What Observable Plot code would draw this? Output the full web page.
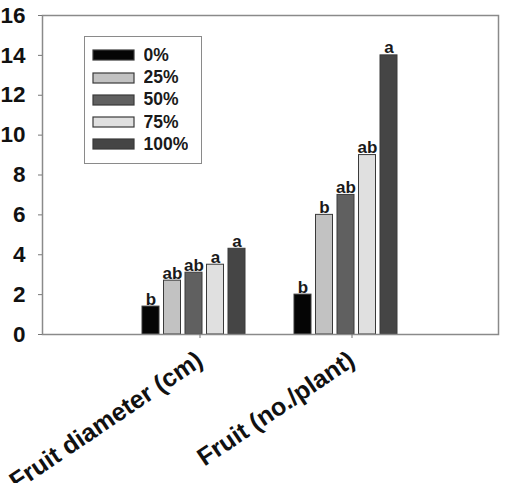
<!DOCTYPE html>
<html>
<head>
<meta charset="utf-8">
<script src="https://cdn.jsdelivr.net/npm/d3@7"></script>
<script src="https://cdn.jsdelivr.net/npm/@observablehq/plot@0.6"></script>
<style>
  html, body { margin: 0; padding: 0; background: #fff; }
  #wrap { position: relative; width: 506px; height: 483px; overflow: hidden; }
  #legend {
    position: absolute; left: 84px; top: 36px; width: 118px; height: 128px;
    box-sizing: border-box; border: 1.5px solid #8a8a8a; padding: 7.4px 0 0 7.5px; background: #fff;
  }
  #legend .lg-swatches { font: bold 17.5px "Liberation Sans", Arial, sans-serif; color: #1a1a1a; margin: 0; }
  #legend .lg-swatch { height: 22.2px; padding: 0; margin: 0; display: flex; align-items: center; }
  #legend .lg-swatch > svg { margin-right: 10px; overflow: visible; }
  #legend .lg-swatch > svg rect { stroke: #3a3a3a; stroke-width: 1.2; }
</style>
</head>
<body>
<div id="wrap"><div id="chart"></div><div id="legend"></div></div>
<script>
const categories = ["Fruit diameter (cm)", "Fruit (no./plant)"];
const treatments = ["0%", "25%", "50%", "75%", "100%"];
const fruitDiameter = [1.4, 2.7, 3.1, 3.5, 4.3];
const fruitNumber = [2, 6, 7, 9, 14];
const lettersDiameter = ["b", "ab", "ab", "a", "a"];
const lettersNumber = ["b", "b", "ab", "ab", "a"];
const colors = ["#050505", "#c2c2c2", "#606060", "#e0e0e0", "#454545"];
const yTicks = [0, 2, 4, 6, 8, 10, 12, 14, 16];

const seriesValues = [fruitDiameter, fruitNumber];
const seriesLetters = [lettersDiameter, lettersNumber];
const rows = [];
categories.forEach((c, ci) => {
  treatments.forEach((t, ti) => {
    rows.push({category: c, treatment: t, value: seriesValues[ci][ti], letter: seriesLetters[ci][ti]});
  });
});

const font = "'Liberation Sans', Arial, sans-serif";
// grouped-bar styling: each group's band is split into 5 slots
const slot = 21.5;
const nT = treatments.length;

const barMarks = treatments.map((t, ti) => {
  const data = rows.filter(d => d.treatment === t);
  const insetLeft = ti * slot;
  const insetRight = (nT - 1 - ti) * slot;
  const offset = (ti - (nT - 1) / 2) * slot;
  return [
    Plot.barY(data, {x: "category", y: "value", fill: "treatment", stroke: "#3a3a3a", strokeWidth: 1, insetLeft, insetRight}),
    Plot.text(data, {x: "category", y: "value", text: "letter", dx: offset, lineAnchor: "bottom", dy: -2, fontSize: 17, fontWeight: "bold", fill: "#1a1a1a"})
  ];
});

const chart = Plot.plot({
  width: 506,
  height: 483,
  marginLeft: 42,
  marginRight: 8,
  marginTop: 15,
  marginBottom: 149,
  style: {fontFamily: font, fontWeight: "bold", color: "#111", background: "#fff"},
  x: {domain: categories, paddingInner: 0.322, paddingOuter: 0.661, label: null},
  y: {domain: [0, 16], label: null},
  color: {domain: treatments, range: colors},
  marks: [
    barMarks,
    Plot.frame({stroke: "#8a8a8a", strokeWidth: 1.5}),
    Plot.axisY(yTicks, {anchor: "left", tickSize: 4, tickPadding: 13, fontSize: 22.5, fontWeight: "bold", stroke: "#777", fill: "#111", label: null}),
    Plot.axisX({anchor: "bottom", tickSize: 4, tickPadding: 19, tickRotate: -34, textAnchor: "end", lineAnchor: "middle", dx: 6, fontSize: 25, fontWeight: "bold", stroke: "#777", fill: "#111", label: null})
  ]
});
document.getElementById("chart").appendChild(chart);

const legend = Plot.legend({
  color: {domain: treatments, range: colors},
  legend: "swatches",
  columns: 1,
  swatchWidth: 41,
  swatchHeight: 10,
  className: "lg"
});
document.getElementById("legend").appendChild(legend);
</script>
</body>
</html>
